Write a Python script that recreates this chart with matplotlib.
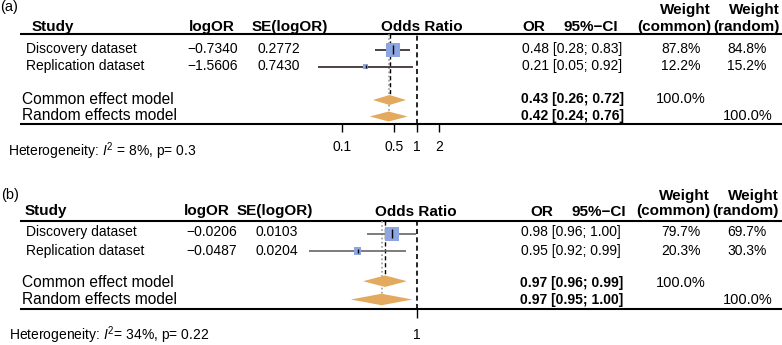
import numpy as np
import matplotlib.pyplot as plt
from matplotlib.ticker import NullLocator, FixedLocator, FixedFormatter

plt.rcParams['font.family'] = ['Liberation Sans', 'DejaVu Sans']
plt.rcParams['mathtext.fontset'] = 'custom'
plt.rcParams['mathtext.rm'] = 'Liberation Sans'
plt.rcParams['mathtext.it'] = 'Liberation Sans:italic'

# ---- data ----
studies = ['Discovery dataset', 'Replication dataset']
models = ['Common effect model', 'Random effects model']

a_logor = [-0.7340, -1.5606]
a_se = [0.2772, 0.7430]
a_or = [0.48, 0.21]
a_ci_lo = [0.28, 0.05]
a_ci_hi = [0.83, 0.92]
a_w_common = [87.8, 12.2]
a_w_random = [84.8, 15.2]
a_pool_or = [0.434, 0.423]
a_pool_lo = [0.261, 0.237]
a_pool_hi = [0.722, 0.757]
a_i2, a_p = 8, '0.3'
a_ticks = [0.1, 0.5, 1, 2]

b_logor = [-0.0206, -0.0487]
b_se = [0.0103, 0.0204]
b_or = [0.98, 0.95]
b_ci_lo = [0.96, 0.92]
b_ci_hi = [1.00, 0.99]
b_w_common = [79.7, 20.3]
b_w_random = [69.7, 30.3]
b_pool_or = [0.9740, 0.9713]
b_pool_lo = [0.9566, 0.9470]
b_pool_hi = [0.9917, 0.9962]
b_i2, b_p = 34, '0.22'
b_ticks = [1]

BOX = '#8DA5E0'
DIAMOND = '#E3A95F'

W, H = 782, 345
fig = plt.figure(figsize=(W / 100, H / 100), dpi=100)
tab = fig.add_axes([0, 0, 1, 1])
tab.set_xlim(0, W)
tab.set_ylim(H, 0)
tab.axis('off')


def px_axes(x0, y0, x1, y1):
    ax = fig.add_axes([x0 / W, 1 - y1 / H, (x1 - x0) / W, (y1 - y0) / H])
    ax.patch.set_visible(False)
    return ax


def fmt(v, nd=4):
    return f'{v:.{nd}f}'.replace('-', '\u2212')


def forest_panel(tag, L, logor, se, or_, lo, hi, w_c, w_r, p_or, p_lo, p_hi,
                 i2, p, ticks, ci_color):
    """Draw one forest panel (table text on `tab`, marks on its own log axis)."""
    t = tab.text
    t(L['tag_x'], L['tag_y'], tag, fontsize=10.5, va='center')

    # header
    hb = dict(fontsize=11, fontweight='bold', va='center')
    t(L['w_c_right'], L['weight_y'], 'Weight', ha='right', **hb)
    t(L['w_r_right'], L['weight_y'], 'Weight', ha='right', **hb)
    t(L['study_x'], L['head_y'], 'Study', **hb)
    t(L['logor_head'], L['head_y'], 'logOR', **hb)
    t(L['se_head'], L['head_y'], 'SE(logOR)', **hb)
    t(L['odds_center'], L['head_y'], 'Odds Ratio', ha='center', **hb)
    t(L['or_head'], L['head_y'], 'OR', **hb)
    t(L['ci_head'], L['head_y'], '95%\u2212CI', **hb)
    t(L['w_c_right'], L['head_y'], '(common)', ha='right', **hb)
    t(L['w_r_right'], L['head_y'], '(random)', ha='right', **hb)
    tab.hlines(L['hline'], 20, W, color='black', lw=1.5)
    tab.hlines(L['bline'], 20, W, color='black', lw=1.5)

    # study rows
    for i, name in enumerate(studies):
        y = L['text_rows'][i]
        t(26, y, name, fontsize=10, va='center')
        t(L['logor_right'], y, fmt(logor[i]), fontsize=10, va='center', ha='right')
        t(L['se_val'], y, fmt(se[i]), fontsize=10, va='center')
        t(L['or_val'], y, f'{or_[i]:.2f} [{lo[i]:.2f}; {hi[i]:.2f}]',
          fontsize=10, va='center')
        t(681, y, f'{w_c[i]:.1f}%', fontsize=10, va='center', ha='center')
        t(747, y, f'{w_r[i]:.1f}%', fontsize=10, va='center', ha='center')

    # pooled rows
    for i, name in enumerate(models):
        y = L['text_pool'][i]
        t(22, y, name, fontsize=11.2, va='center')
        t(L['or_val'] - 1, y, f'{p_or[i]:.2f} [{p_lo[i]:.2f}; {p_hi[i]:.2f}]',
          fontsize=10, fontweight='bold', va='center')
    t(681, L['text_pool'][0], f'{sum(w_c):.1f}%', fontsize=10.5, va='center', ha='center')
    t(747.5, L['text_pool'][1], f'{sum(w_r):.1f}%', fontsize=10.5, va='center', ha='center')

    t(L['het_x'], L['het_y'], f'Heterogeneity: $I^2${L["i2_gap"]}= {i2}%, p= {p}',
      fontsize=10, va='center')

    # forest axis
    x0, x1 = 300, 450
    ax = px_axes(x0, L['hline'], x1, L['bline'])
    ax.set_xscale('log')
    ax.set_xlim(10 ** ((x0 - L['one_px']) / L['decade_px']),
                10 ** ((x1 - L['one_px']) / L['decade_px']))
    ax.set_ylim(L['bline'], L['hline'])
    for s in ax.spines.values():
        s.set_visible(False)
    ax.xaxis.set_major_locator(FixedLocator(ticks))
    ax.xaxis.set_major_formatter(FixedFormatter([f'{v:g}' for v in ticks]))
    ax.xaxis.set_minor_locator(NullLocator())
    ax.set_yticks([])
    ax.tick_params(axis='x', direction='out', length=L['tick_len'], width=1,
                   pad=L['tick_pad'], labelsize=10)

    or_est = np.exp(logor)
    ci_l = np.exp(np.array(logor) - 1.96 * np.array(se))
    ci_h = np.exp(np.array(logor) + 1.96 * np.array(se))
    rows = L['rows']
    ax.hlines(rows, ci_l, ci_h, color=ci_color, lw=1.2, zorder=3)
    side = 14 * np.sqrt(np.array(w_c) / max(w_c)) * 0.72
    ax.scatter(or_est, rows, marker='s', s=side ** 2, color=BOX, linewidths=0, zorder=4)
    ax.scatter(or_est, rows, marker='|', s=(side * 0.7) ** 2, color='black',
               linewidths=1, zorder=5)

    # reference lines
    ax.axvline(1, color='black', lw=1.2, ls=(0, (3, 2)), zorder=2)
    dh = L['dia_h']
    pr = L['pool']
    ax.vlines(p_or[0], L['hline'], pr[0] - dh / 2, color='black', lw=1,
              ls=(0, (3, 2)), zorder=2)
    ax.vlines(p_or[1], L['hline'], pr[1] - dh / 2, color='#9a9a9a', lw=1.2,
              ls=(0, (1, 1.5)), zorder=1)

    for i in range(2):
        ax.fill([p_lo[i], p_or[i], p_hi[i], p_or[i]],
                [pr[i], pr[i] - dh / 2, pr[i], pr[i] + dh / 2],
                color=DIAMOND, lw=0, zorder=4)
    return ax


layout_a = dict(tag_x=0.5, tag_y=7, weight_y=10, head_y=27, hline=34, bline=124,
                rows=[49.5, 66.5], text_rows=[49, 66], pool=[100, 116.5],
                text_pool=[99, 116], study_x=32, logor_head=189, logor_right=237.5,
                se_head=252, se_val=257.5, odds_center=421.7, or_head=522,
                ci_head=564, or_val=522, w_c_right=711, w_r_right=780,
                het_x=8, het_y=150.7, i2_gap=' ', one_px=416.7, decade_px=75.0,
                tick_len=5.8, tick_pad=6, dia_h=10)

layout_b = dict(tag_x=0.7, tag_y=195, weight_y=196, head_y=211.5, hline=220.7,
                bline=309.3, rows=[233.5, 251], text_rows=[231.7, 250.7],
                pool=[281.2, 299.5], text_pool=[282.7, 300], study_x=25,
                logor_head=184.3, logor_right=237.3, se_head=237, se_val=256,
                odds_center=416, or_head=530, ci_head=571, or_val=521,
                w_c_right=710, w_r_right=779, het_x=9.3, het_y=335.5, i2_gap='',
                one_px=417, decade_px=1215 * np.log(10), tick_len=6.5,
                tick_pad=7, dia_h=11.5)

forest_panel('(a)', layout_a, a_logor, a_se, a_or, a_ci_lo, a_ci_hi, a_w_common,
             a_w_random, a_pool_or, a_pool_lo, a_pool_hi, a_i2, a_p, a_ticks, '#2e2424')
forest_panel('(b)', layout_b, b_logor, b_se, b_or, b_ci_lo, b_ci_hi, b_w_common,
             b_w_random, b_pool_or, b_pool_lo, b_pool_hi, b_i2, b_p, b_ticks, '#666666')

fig.savefig('out.png', dpi=100)
